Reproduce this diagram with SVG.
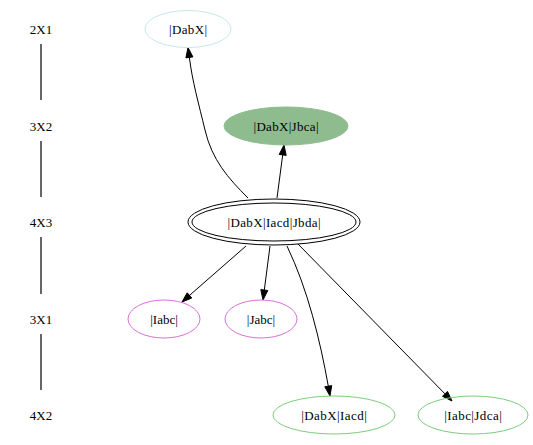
<svg xmlns="http://www.w3.org/2000/svg" width="533" height="445" viewBox="0 0 533 445">
<style>
text{font-family:"Liberation Serif","Times New Roman",serif;font-size:13px;text-anchor:middle;fill:#000}
.rank{stroke:#000;stroke-width:1.2}
.e{fill:none;stroke:#000;stroke-width:1}
.ah{fill:#000;stroke:#000;stroke-width:1}
</style>
<rect width="533" height="445" fill="#fff"/>
<g id="ranks">
<text x="41" y="34">2X1</text>
<text x="41" y="131">3X2</text>
<text x="41" y="227">4X3</text>
<text x="41" y="324">3X1</text>
<text x="41" y="420">4X2</text>
<line class="rank" x1="41" y1="44" x2="41" y2="100"/>
<line class="rank" x1="41" y1="141" x2="41" y2="197"/>
<line class="rank" x1="41" y1="237" x2="41" y2="294"/>
<line class="rank" x1="41" y1="334" x2="41" y2="390"/>
</g>
<g id="connectors">
<path class="e" d="M248,198 C228,178 212,160 205,130 C199,105 192,80 189.4,57.4"/>
<polygon class="ah" points="192.9,56.9 188,47.5 185.9,57.9"/>
<path class="e" d="M277,198 L282.7,154.9"/>
<polygon class="ah" points="286.2,155.4 284,145 279.2,154.4"/>
<path class="e" d="M246,246 L189.5,295.4"/>
<polygon class="ah" points="191.8,298 182,302 187.2,292.8"/>
<path class="e" d="M270,246 L264.3,290.1"/>
<polygon class="ah" points="267.8,290.5 263,300 260.8,289.6"/>
<path class="e" d="M287,246 C308,290 320,340 328.3,386.2"/>
<polygon class="ah" points="331.7,385.6 330,396 324.8,386.8"/>
<path class="e" d="M298,244 L445,393.9"/>
<polygon class="ah" points="447.5,391.4 452,401 442.5,396.3"/>
</g>
<g id="n_DabX">
<ellipse cx="188" cy="29" rx="43" ry="18.5" fill="none" stroke="#c6e8e8"/>
<text x="188" y="34" textLength="38" lengthAdjust="spacing">|DabX|</text>
</g>
<g id="n_DabX_Jbca">
<ellipse cx="286" cy="126" rx="62" ry="19" fill="#8fbc8f" stroke="#8fbc8f"/>
<text x="286" y="131" textLength="65" lengthAdjust="spacing">|DabX|Jbca|</text>
</g>
<g id="n_DabX_Iacd_Jbda">
<ellipse cx="274" cy="222" rx="86" ry="23" fill="none" stroke="#000"/>
<ellipse cx="274" cy="222" rx="82" ry="19" fill="none" stroke="#000"/>
<text x="274" y="227" textLength="93" lengthAdjust="spacing">|DabX|Iacd|Jbda|</text>
</g>
<g id="n_Iabc">
<ellipse cx="164" cy="319" rx="36" ry="19" fill="none" stroke="#da70d6"/>
<text x="164" y="324">|Iabc|</text>
</g>
<g id="n_Jabc">
<ellipse cx="261" cy="319" rx="36" ry="19" fill="none" stroke="#da70d6"/>
<text x="261" y="324">|Jabc|</text>
</g>
<g id="n_DabX_Iacd">
<ellipse cx="334" cy="415" rx="61" ry="19" fill="none" stroke="#7ccd7c"/>
<text x="334" y="420" textLength="65.5" lengthAdjust="spacing">|DabX|Iacd|</text>
</g>
<g id="n_Iabc_Jdca">
<ellipse cx="473" cy="415" rx="55" ry="19" fill="none" stroke="#7ccd7c"/>
<text x="473" y="420" textLength="57.5" lengthAdjust="spacing">|Iabc|Jdca|</text>
</g>
</svg>
